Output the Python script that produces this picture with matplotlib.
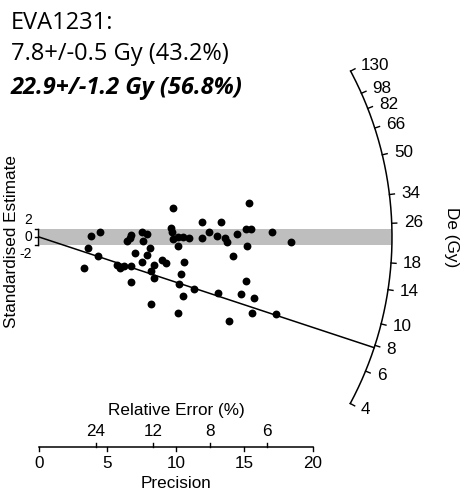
import numpy as np
import matplotlib.pyplot as plt

# radial plot values: precision (1/se) and standardised estimate per aliquot
precision = [3.77, 4.45, 3.60, 4.28, 3.31, 5.72, 5.91, 6.23, 6.68, 6.72,
             6.40, 6.61, 6.75, 7.04, 7.50, 7.86, 7.57, 8.10, 7.91, 7.50,
             8.42, 8.96, 9.25, 8.15, 8.42, 8.15, 9.76, 9.64, 9.71, 9.76,
             10.17, 10.17, 10.53, 10.97, 10.61, 10.36, 10.24, 10.49, 10.12, 11.34,
             11.90, 11.90, 12.43, 13.01, 13.26, 13.58, 13.74, 13.09, 14.14, 14.47,
             13.89, 15.35, 15.11, 15.45, 15.16, 16.99, 18.37, 15.11, 14.74, 15.69,
             15.53, 17.30]
std_est = [0.31, 1.12, -2.55, -4.52, -7.45, -6.67, -7.31, -6.83, -6.79, -10.83,
           -0.88, -0.12, 0.36, -3.74, 1.12, 0.64, -0.95, -2.69, -4.29, -5.88,
           -6.67, -5.48, -6.26, -8.10, -9.69, -16.02, 6.98, 2.21, 1.26, -0.55,
           -2.07, 0.07, 0.07, -0.17, -5.88, -8.88, -11.26, -13.98, -18.17, -12.45,
           3.64, -0.31, 1.26, 0.24, 3.64, -0.17, -1.26, -13.26, -4.52, 0.64,
           -20.0, 8.17, 1.83, 1.83, -2.07, 1.12, -1.26, -10.40, -13.64, -14.60,
           -18.17, -18.33]

central = 22.9   # Gy, component 2 (grey band)
minor = 7.8      # Gy, component 1 (line)
z_ticks = [4, 6, 8, 10, 14, 18, 26, 34, 50, 66, 82, 98, 130]
prec_ticks = [0, 5, 10, 15, 20]
rel_err_ticks = [24, 12, 8, 6]
y_ticks = [-2, 0, 2]

W, H = 467, 495
ox, oy = 39, 237       # origin in pixels
sx, sy = 13.7, 4.2     # pixels per unit
R = 353                # arc radius in pixels


def px(x):
    return (x - ox) / sx


def py(y):
    return (oy - y) / sy


def arc_xy(v, r=R):
    th = np.arctan(np.log(np.asarray(v) / central) * sy / sx)
    return r * np.cos(th) / sx, r * np.sin(th) / sy


plt.rcParams['font.family'] = ['Liberation Sans', 'DejaVu Sans']
fs = 12.3

fig = plt.figure(figsize=(W / 100, H / 100), dpi=100)
ax = fig.add_axes([0, 0, 1, 1])
ax.set_xlim(px(0), px(W))
ax.set_ylim(py(H), py(0))
ax.axis('off')

# grey 2-sigma band around central value
xe = np.sqrt(R**2 - (2 * sy)**2) / sx
ax.fill_between([0, xe], -2, 2, color='#bebebe', lw=0, zorder=1)

# line for the minor component
lx, ly = arc_xy(minor)
ax.plot([0, lx], [0, ly], color='k', lw=1.1, zorder=2)

ax.scatter(precision, std_est, s=32, c='k', linewidths=0, zorder=3)

# De arc
vals = np.exp(np.linspace(np.log(min(z_ticks)), np.log(max(z_ticks)), 300))
ax.plot(*arc_xy(vals), color='k', lw=1.1)
for v in z_ticks:
    x1, y1 = arc_xy(v)
    x2, y2 = arc_xy(v, R + 5)
    ax.plot([x1, x2], [y1, y2], color='k', lw=1.0)
    tx, ty = arc_xy(v, R + 12)
    ax.text(tx, ty, str(v), fontsize=fs, ha='left', va='center')
ax.text(px(452), py(237), 'De (Gy)', fontsize=fs, rotation=-90,
        ha='center', va='center')

# standardised estimate axis
ax.plot([px(38)] * 2, [-2, 2], color='k', lw=1.0)
for t in y_ticks:
    ax.plot([px(35), px(38)], [t, t], color='k', lw=1.0)
    ax.text(px(32), 2 * t, str(t), fontsize=10, ha='right', va='center')
ax.text(px(12), py(241), 'Standardised Estimate', fontsize=fs, rotation=90,
        ha='center', va='center')

# precision / relative error axis
ya = py(446.5)
ax.plot([0, 20], [ya, ya], color='k', lw=1.1)
for p in prec_ticks:
    ax.plot([p, p], [ya, ya - 4 / sy], color='k', lw=1.0)
    ax.text(p, py(463), str(p), fontsize=fs, ha='center', va='center')
for e in rel_err_ticks:
    ax.plot([100 / e] * 2, [ya, ya + 4 / sy], color='k', lw=1.0)
    ax.text(100 / e, py(432), str(e), fontsize=fs, ha='center', va='center')
ax.text(10, py(410), 'Relative Error (%)', fontsize=fs, ha='center', va='center')
ax.text(10, py(483), 'Precision', fontsize=fs, ha='center', va='center')

# summary text
tf = ['Open Sans', 'DejaVu Sans']
ax.text(px(11), py(29), 'EVA1231:', fontsize=17, family=tf)
ax.text(px(11), py(60), '7.8+/-0.5 Gy (43.2%)', fontsize=17, family=tf)
ax.text(px(11), py(94), '22.9+/-1.2 Gy (56.8%)', fontsize=17, family=tf,
        weight='bold', style='italic')

fig.savefig('out.png', dpi=100)
